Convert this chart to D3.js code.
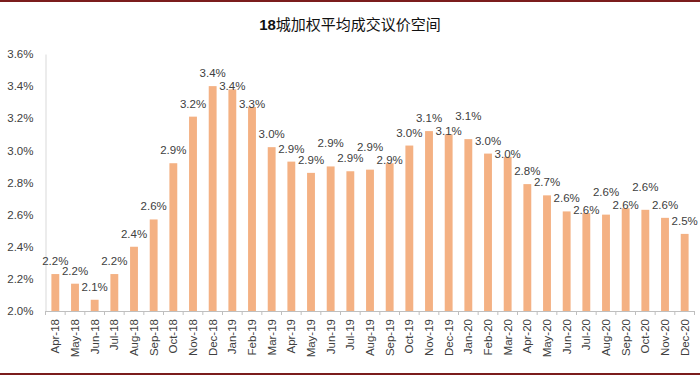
<!DOCTYPE html>
<html>
<head>
<meta charset="utf-8">
<script src="https://cdn.jsdelivr.net/npm/d3@7/dist/d3.min.js"></script>
<style>
  body { margin: 0; background: #fff; }
  svg text { font-family: "Liberation Sans", Arial, sans-serif; fill: #404040; }
</style>
</head>
<body>
<div id="chart"></div>
<script>
// data
var months = ["Apr-18","May-18","Jun-18","Jul-18","Aug-18","Sep-18","Oct-18","Nov-18","Dec-18",
              "Jan-19","Feb-19","Mar-19","Apr-19","May-19","Jun-19","Jul-19","Aug-19","Sep-19","Oct-19","Nov-19","Dec-19",
              "Jan-20","Feb-20","Mar-20","Apr-20","May-20","Jun-20","Jul-20","Aug-20","Sep-20","Oct-20","Nov-20","Dec-20"];
var spread = [2.23, 2.17, 2.07, 2.23, 2.40, 2.57, 2.92, 3.21, 3.40,
              3.38, 3.27, 3.02, 2.93, 2.86, 2.90, 2.87, 2.88, 2.92, 3.03, 3.12, 3.10,
              3.07, 2.98, 2.96, 2.79, 2.72, 2.62, 2.61, 2.60, 2.64, 2.63, 2.58, 2.48];
var yTicks = [2.0, 2.2, 2.4, 2.6, 2.8, 3.0, 3.2, 3.4, 3.6];
var title = "18城加权平均成交议价空间";

(function(){
    var width = 700;
    var height = 376;
    var margin = {top: 54, left: 45.5, right: 5.5, bottom: 65};

    var svg = d3.select("#chart").append("svg")
        .attr("width", width)
        .attr("height", height);

    // frame lines top and bottom
    svg.append("rect")
        .attr("x", 0).attr("y", 0)
        .attr("width", width).attr("height", 2)
        .attr("fill", "#7b1c1c");
    svg.append("rect")
        .attr("x", 0).attr("y", 373)
        .attr("width", width).attr("height", 2)
        .attr("fill", "#7b1c1c");

    // title
    var t = svg.append("text")
        .attr("x", 350)
        .attr("y", 30)
        .attr("text-anchor", "middle")
        .style("font-size", "15px");
    t.append("tspan")
        .style("font-weight", "bold")
        .style("font-family", "'Liberation Sans', Arial, sans-serif")
        .style("fill", "#111")
        .text(title.slice(0, 2));
    t.append("tspan")
        .style("font-family", "'Noto Sans CJK SC', sans-serif")
        .style("font-weight", 400)
        .style("fill", "#111")
        .text(title.slice(2));

    var x = d3.scaleBand()
        .domain(months)
        .range([margin.left, width - margin.right])
        .paddingInner(0.6)
        .paddingOuter(0.3);

    var y = d3.scaleLinear()
        .domain([2.0, 3.6])
        .range([height - margin.bottom, margin.top]);

    // y axis
    var yAxis = d3.axisLeft(y)
        .tickValues(yTicks)
        .tickSize(0)
        .tickPadding(12)
        .tickFormat(function(d){ return d.toFixed(1) + "%"; });
    var gy = svg.append("g")
        .attr("transform", "translate(" + margin.left + ",0)")
        .call(yAxis);
    gy.select(".domain").attr("stroke", "#d9d9d9");
    gy.selectAll("text").style("font-size", "11.5px").attr("fill", "#404040");

    // bars
    svg.append("g")
        .selectAll("rect")
        .data(spread).enter().append("rect")
        .attr("x", function(d, i){ return x(months[i]); })
        .attr("y", function(d){ return y(d); })
        .attr("width", x.bandwidth())
        .attr("height", function(d){ return y(2.0) - y(d); })
        .attr("fill", "#f4b183");

    // value labels: labels are wider than one step, so a label must not
    // sit at the same height as its left neighbour. try above, dropped, raised
    var minSep = 9.5;
    var baseY = [];
    spread.forEach(function(d, i){
        var top = y(d);
        var options = [top - 9, top + 1, top - 19];
        if (i === 0) { baseY.push(options[0]); return; }
        var prev = baseY[i - 1];
        var pick = null, best = -1, bestY = options[0];
        options.forEach(function(o){
            var sep = Math.abs(o - prev);
            if (pick === null && sep >= minSep) pick = o;
            if (sep > best) { best = sep; bestY = o; }
        });
        baseY.push(pick !== null ? pick : bestY);
    });
    svg.append("g")
        .selectAll("text")
        .data(spread).enter().append("text")
        .attr("x", function(d, i){ return x(months[i]) + x.bandwidth() / 2; })
        .attr("y", function(d, i){ return baseY[i]; })
        .attr("text-anchor", "middle")
        .style("font-size", "11.5px")
        .text(function(d){ return d.toFixed(1) + "%"; });

    // x axis
    var xAxis = d3.axisBottom(x)
        .tickSize(0)
        .tickPadding(8);
    var gx = svg.append("g")
        .attr("transform", "translate(0," + y(2.0) + ")")
        .call(xAxis);
    gx.select(".domain").attr("stroke", "#bfbfbf");
    gx.selectAll("text")
        .style("font-size", "11.5px")
        .attr("fill", "#404040")
        .attr("text-anchor", "end")
        .attr("dy", "0.35em")
        .attr("transform", "rotate(-90)")
        .attr("x", -8)
        .attr("y", 0);

    // category boundary ticks
    var gap = (x.step() - x.bandwidth()) / 2;
    var edges = months.map(function(m){ return x(m) - gap; });
    edges.push(x(months[months.length - 1]) + x.bandwidth() + gap);
    gx.append("g")
        .selectAll("line")
        .data(edges).enter().append("line")
        .attr("x1", function(d){ return d; })
        .attr("x2", function(d){ return d; })
        .attr("y1", 0)
        .attr("y2", 4)
        .attr("stroke", "#bfbfbf");
})();
</script>
</body>
</html>
